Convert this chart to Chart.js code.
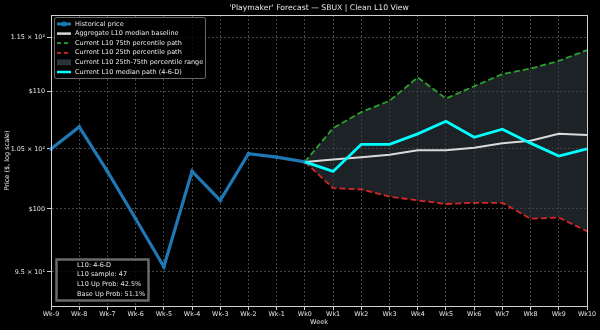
<!DOCTYPE html>
<html>
<head>
<meta charset="utf-8">
<script src="https://cdn.jsdelivr.net/npm/chart.js@4"></script>
<style>
  html, body { margin: 0; padding: 0; background: #000; }
  #wrap { width: 600px; height: 330px; }
</style>
</head>
<body>
<div id="wrap"><canvas id="myChart" width="600" height="330"></canvas></div>
<script>
// weeks and values
const weeks = ['Wk-9', 'Wk-8', 'Wk-7', 'Wk-6', 'Wk-5', 'Wk-4', 'Wk-3', 'Wk-2', 'Wk-1', 'Wk0',
               'Wk1', 'Wk2', 'Wk3', 'Wk4', 'Wk5', 'Wk6', 'Wk7', 'Wk8', 'Wk9', 'Wk10'];
const historical = [105.0, 106.9, 103.1, 99.2, 95.4, 103.1, 100.7, 104.6, 104.3, 103.9];
const baseline = [103.9, 104.1, 104.3, 104.5, 104.9, 104.9, 105.1, 105.5, 105.7, 106.3, 106.2];
const p75 = [103.9, 106.8, 108.2, 109.2, 111.3, 109.4, 110.5, 111.6, 112.1, 112.8, 113.8];
const p25 = [103.9, 101.7, 101.6, 101.0, 100.7, 100.4, 100.5, 100.5, 99.2, 99.3, 98.2];
const median = [103.9, 103.1, 105.4, 105.4, 106.3, 107.4, 106.0, 106.7, 105.5, 104.4, 105.0];
const yTicks = [95, 100, 105, 110, 115];
const yTickLabels = ['9.5 × 10¹', '$100', '1.05 × 10²', '$110', '1.15 × 10²'];
const statLines = ['L10: 4-6-D', 'L10 sample: 47', 'L10 Up Prob: 42.5%', 'Base Up Prob: 51.1%'];

const FONT = 'DejaVu Sans';
const TXT = '#e6e6e6';

// pad the short series so they line up with the week labels
const histData = weeks.map((w, i) => i < historical.length ? historical[i] : null);
const fc = arr => weeks.map((w, i) => i >= 9 ? arr[i - 9] : null);

const legendItems = [
    { label: 'Historical price', kind: 'marker', color: '#1f77b4' },
    { label: 'Aggregate L10 median baseline', kind: 'line', color: '#d9d9d9' },
    { label: 'Current L10 75th percentile path', kind: 'dash', color: '#2ca02c' },
    { label: 'Current L10 25th percentile path', kind: 'dash', color: '#d62728' },
    { label: 'Current L10 25th-75th percentile range', kind: 'patch', color: '#2a3238' },
    { label: 'Current L10 median path (4-6-D)', kind: 'line', color: '#00ffff' }
];

const decor = {
    id: 'decor',
    beforeDraw(chart) {
        const c = chart.ctx;
        c.save();
        c.fillStyle = '#000';
        c.fillRect(0, 0, chart.width, chart.height);
        c.restore();
    },
    afterDraw(chart) {
        const c = chart.ctx;
        const a = chart.chartArea;
        c.save();
        // spines
        c.strokeStyle = '#d0d0d0';
        c.lineWidth = 1;
        c.strokeRect(a.left + 0.5, a.top + 0.5, a.right - a.left, a.bottom - a.top);

        // title and axis titles
        c.fillStyle = TXT;
        c.textAlign = 'center';
        c.textBaseline = 'middle';
        c.font = '7.7px ' + FONT;
        c.fillText("'Playmaker' Forecast — SBUX | Clean L10 View", (a.left + a.right) / 2, 8);
        c.font = '6.5px ' + FONT;
        c.fillText('Week', (a.left + a.right) / 2, 322);
        c.translate(7, (a.top + a.bottom) / 2);
        c.rotate(-Math.PI / 2);
        c.fillText('Price ($, log scale)', 0, 0);
        c.setTransform(1, 0, 0, 1, 0, 0);

        // legend box
        const lx = a.left + 3, ly = a.top + 2, lw = 151, lh = 61;
        c.fillStyle = 'rgba(0,0,0,0.8)';
        c.strokeStyle = 'rgba(150,150,150,0.7)';
        c.lineWidth = 1;
        c.beginPath();
        c.roundRect(lx + 0.5, ly + 0.5, lw, lh, 2);
        c.fill();
        c.stroke();
        c.font = '6.5px ' + FONT;
        c.textAlign = 'left';
        legendItems.forEach((it, i) => {
            const y = ly + 7 + i * 9.6;
            const x0 = lx + 3, x1 = lx + 17;
            c.strokeStyle = it.color;
            c.fillStyle = it.color;
            c.setLineDash([]);
            if (it.kind === 'patch') {
                c.fillRect(x0, y - 3, x1 - x0, 6);
            } else {
                c.lineWidth = it.kind === 'marker' ? 3 : (it.kind === 'dash' ? 1.8 : 2.5);
                if (it.kind === 'dash') c.setLineDash([4, 3]);
                c.beginPath();
                c.moveTo(x0, y);
                c.lineTo(x1, y);
                c.stroke();
                if (it.kind === 'marker') {
                    c.beginPath();
                    c.arc((x0 + x1) / 2, y, 2.5, 0, Math.PI * 2);
                    c.fill();
                }
            }
            c.setLineDash([]);
            c.fillStyle = TXT;
            c.fillText(it.label, lx + 21, y);
        });

        // stats box
        const sx = a.left + 5, sy = 259, sw = 92, sh = 41;
        c.fillStyle = 'rgba(0,0,0,0.8)';
        c.strokeStyle = 'rgba(150,150,150,0.7)';
        c.beginPath();
        c.rect(sx + 0.5, sy + 0.5, sw, sh);
        c.fill();
        c.stroke();
        c.fillStyle = TXT;
        c.font = '6.5px ' + FONT;
        statLines.forEach((s, i) => c.fillText(s, sx + 21, sy + 6 + i * 9.8));
        c.restore();
    }
};

document.addEventListener("DOMContentLoaded", function() {
    const ctx = document.getElementById('myChart').getContext('2d');
    const myChart = new Chart(ctx, {
        type: 'line',
        data: {
            labels: weeks,
            datasets: [
                {
                    label: 'Historical price',
                    data: histData,
                    borderColor: '#1f77b4',
                    backgroundColor: '#1f77b4',
                    borderWidth: 3.2,
                    pointRadius: 2,
                    pointHoverRadius: 2,
                    pointBorderWidth: 0,
                    order: 1
                },
                {
                    label: 'Aggregate L10 median baseline',
                    data: fc(baseline),
                    borderColor: '#d9d9d9',
                    borderWidth: 2,
                    pointRadius: 0,
                    order: 4
                },
                {
                    label: 'Current L10 75th percentile path',
                    data: fc(p75),
                    borderColor: '#2ca02c',
                    borderWidth: 1.8,
                    borderDash: [6, 3],
                    pointRadius: 0,
                    fill: { target: 3 },
                    backgroundColor: 'rgba(47,57,64,0.6)',
                    order: 3
                },
                {
                    label: 'Current L10 25th percentile path',
                    data: fc(p25),
                    borderColor: '#d62728',
                    borderWidth: 1.8,
                    borderDash: [6, 3],
                    pointRadius: 0,
                    order: 2
                },
                {
                    label: 'Current L10 median path (4-6-D)',
                    data: fc(median),
                    borderColor: '#00ffff',
                    borderWidth: 2.8,
                    pointRadius: 0,
                    order: 0
                }
            ]
        },
        options: {
            responsive: false,
            animation: false,
            layout: { padding: { top: 15, right: 13, left: 0, bottom: 0 } },
            plugins: {
                legend: { display: false },
                title: { display: false },
                tooltip: { enabled: false },
                filler: { drawTime: 'beforeDatasetsDraw' }
            },
            scales: {
                x: {
                    offset: false,
                    grid: { color: 'rgba(200,200,200,0.35)', tickLength: 4, tickColor: '#d0d0d0' },
                    border: { dash: [2, 2], color: '#d0d0d0' },
                    ticks: { color: TXT, font: { family: FONT, size: 6.4 }, maxRotation: 0, autoSkip: false, padding: 1 },
                    afterFit: s => { s.height = 24; }
                },
                y: {
                    type: 'logarithmic',
                    min: 92.4,
                    max: 117.1,
                    grid: { color: 'rgba(200,200,200,0.35)', tickLength: 4, tickColor: '#d0d0d0' },
                    border: { dash: [2, 2], color: '#d0d0d0' },
                    afterBuildTicks: s => { s.ticks = yTicks.map(v => ({ value: v })); },
                    ticks: {
                        color: TXT,
                        font: { family: FONT, size: 6.4 },
                        padding: 2,
                        callback: v => { const k = yTicks.indexOf(v); return k >= 0 ? yTickLabels[k] : ''; }
                    },
                    afterFit: s => { s.width = 51; }
                }
            }
        },
        plugins: [decor]
    });
});
</script>
</body>
</html>
